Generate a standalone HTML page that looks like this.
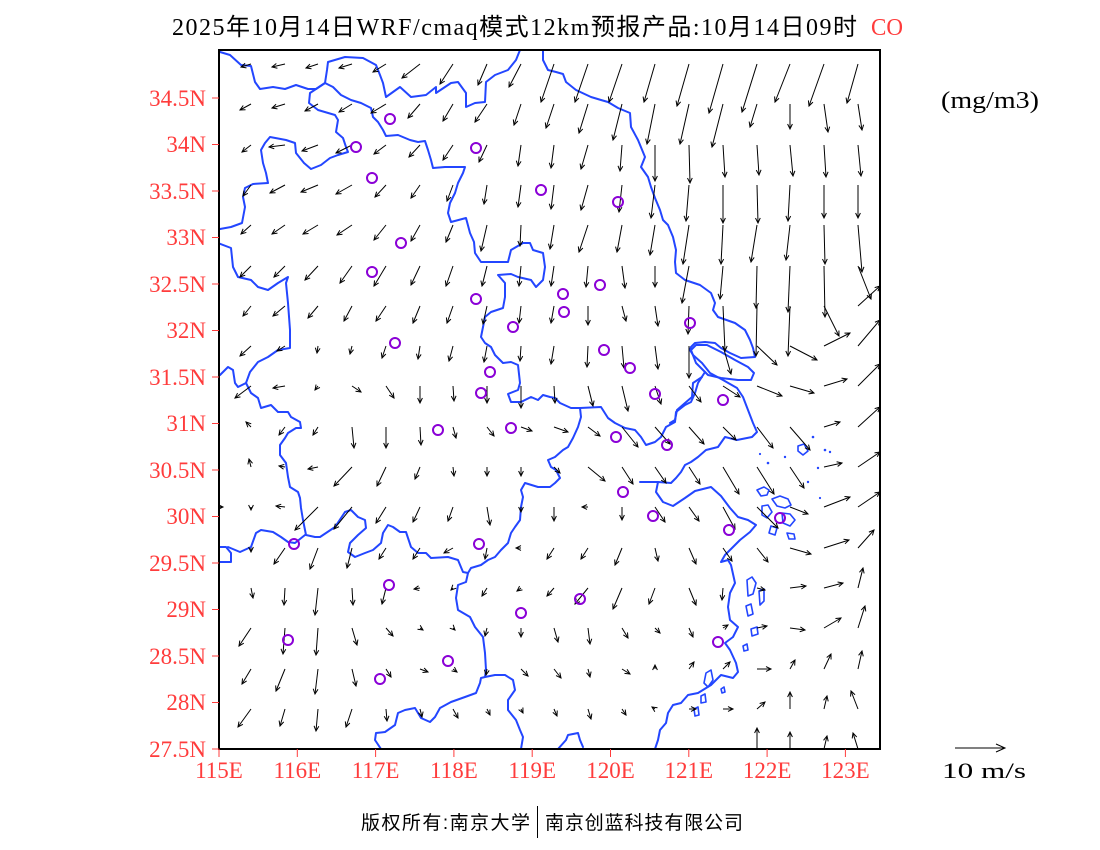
<!DOCTYPE html>
<html><head><meta charset="utf-8"><style>
html,body{margin:0;padding:0;background:#fff;}
svg{display:block;}
.lab{font-family:"Liberation Serif","Noto Sans CJK SC",serif;font-size:23px;fill:#ff3c3c;}
.bd{fill:none;stroke:#2346ff;stroke-width:2;stroke-linejoin:round;stroke-linecap:round;}
.isl path{fill:none;stroke:#2346ff;stroke-width:1.6;stroke-linejoin:round;}
.isl circle{fill:#2346ff;stroke:none;}
.ar path{fill:none;stroke:#000;stroke-width:1;}
.ci{fill:none;stroke:#8a00d6;stroke-width:2;}
</style></head><body>
<svg width="1100" height="850" viewBox="0 0 1100 850" xmlns="http://www.w3.org/2000/svg">
<defs>
<marker id="ah" markerUnits="userSpaceOnUse" markerWidth="12" markerHeight="12" viewBox="-6 -6 12 12" refX="0" refY="0" orient="auto"><path d="M-5,-2.4L0,0L-5,2.4" fill="none" stroke="#000" stroke-width="1"/></marker>
<clipPath id="pc"><rect x="219" y="50" width="661" height="699"/></clipPath>
</defs>
<rect x="0" y="0" width="1100" height="850" fill="#fff"/>

<!-- title -->
<text x="172" y="35" textLength="685" lengthAdjust="spacing" style="font-family:'Liberation Serif','Noto Sans CJK SC',serif;font-size:24px;fill:#000">2025年10月14日WRF/cmaq模式12km预报产品:10月14日09时</text>
<text x="871" y="35" textLength="32" lengthAdjust="spacingAndGlyphs" style="font-family:'Liberation Serif',serif;font-size:24px;fill:#ff3c3c">CO</text>

<g clip-path="url(#pc)">
<!-- borders -->
<polyline class="bd" points="220,52 230,55 241,65 251,66 255,82 260,89 273,87 285,89 296,85 308,89 316,89 325,83 327,70 328,62 345,57 363,58 376,65 380,75 383,83 386,97 393,92 400,87 411,97 426,95 436,87 436,93 451,83 458,82 466,93 466,107 475,103 485,102 486,82 495,75 508,70 516,60 520,50"/>
<polyline class="bd" points="325,83 310,93 309,103 318,110 335,115 338,120 336,132 343,138 346,147 348,152 338,155 330,158 321,165 311,169 304,163 296,153 295,143 286,140 270,137 265,143 261,150 263,163 266,173 268,183 253,184 245,188 243,197 245,207 242,223 231,227 220,229"/>
<polyline class="bd" points="325,83 333,87 341,95 351,100 361,103 371,108 373,117 378,122 383,130 386,136 398,135 410,140 418,142 425,141 428,150 431,160 433,168 445,167 465,167 463,173 458,183 455,193 450,203 448,213 451,222 466,218 470,233 474,242 475,253 481,262 495,262 508,262 511,250 523,243 530,243 533,250 543,253 545,267 543,280 536,287 531,280 518,277 511,274 498,275 505,283 505,297 503,308 491,312 485,317 481,337 485,343 491,347 495,355 503,363 511,362 518,365 520,383 518,390 508,394 511,402 521,402 531,397 538,400 543,395 550,397 555,398 560,403 571,408 580,408 601,407 608,418 615,423 625,428 635,430 641,437 646,445 655,442 661,437 666,427 675,422 676,412 685,405 691,402 695,393 698,383 705,372"/>
<polyline class="bd" points="543,50 543,60 548,70 556,72 563,74 566,82 576,90 591,97 601,100 608,102 618,108 630,113 631,127 638,140 645,157 641,167 648,177 651,187 655,198 660,210 663,220 668,225 673,237 676,250 675,262 676,273 685,280 700,285 711,293 715,303 713,310 718,317 735,323 745,330 750,340 753,348 755,357 741,358 730,353 721,348 715,343 705,342 695,343 691,347 690,350 693,355 702,363 710,373 723,380 737,388 743,397 748,410 753,423 757,432 752,437 737,440 725,437 718,447 706,450 698,457 691,462 685,465 681,472 676,478 671,483 658,482 648,482 640,482"/>
<polyline class="bd" points="691,350 696,363 708,375 721,378 738,380 751,380 754,373 748,367 735,360 721,352 707,345 696,345 691,350"/>
<polyline class="bd" points="702,377 693,383 692,397 685,403 677,410 675,420 670,423"/>
<polyline class="bd" points="658,482 656,492 663,502 673,506 685,498 695,491 711,487 721,496 730,508 738,517 748,520 756,525 750,532 740,540 732,548 725,555 721,562 728,560 731,565 735,583 730,593 728,607 730,620 738,627 733,637 725,643 730,650 736,663 738,672 733,678 721,675 711,685 698,693 688,695 681,703 673,705 668,713 666,723 660,730 658,740 655,749"/>
<polyline class="bd" points="218,243 231,248 233,267 238,277 251,280 258,287 268,290 278,283 288,277 286,283 288,303 290,330 290,348 278,350 268,357 258,362 250,372 246,383 238,387 235,383 233,370 228,367 220,375"/>
<polyline class="bd" points="246,383 251,393 258,398 261,408 271,405 278,412 288,412 291,417 300,422 301,428 296,428 288,433 285,438 280,445 280,455 286,463 288,477 290,487 298,492 300,498 301,508 303,520 306,535 315,537 320,537 335,527 345,512 351,510 358,517 365,520 366,528 358,535 350,543 348,552 355,557 365,553 373,550 381,543 383,533 388,525 393,527 400,532 406,532 411,547 418,553 426,553 431,558 448,557 458,560 463,572 468,573 466,582 458,585 456,598 458,610 470,617 475,627 483,637 485,653 486,670 485,677 481,678 480,683 476,693 465,697 451,702 440,708 435,717 430,722 421,718 415,708 405,710 398,713 395,725 385,732 376,733 375,740 381,749"/>
<polyline class="bd" points="228,547 240,552 251,547 256,533 261,530 273,532 281,537 288,542 295,543 305,535"/>
<polyline class="bd" points="219,547 226,547 231,553 231,562 219,562"/>
<polyline class="bd" points="468,573 471,568 481,565 488,560 495,557 501,550 508,543 511,533 515,527 520,520 521,507 523,497 521,490 525,483 538,487 550,487 555,483 560,478 556,470 551,467 548,460 555,457 563,450 568,447 573,438 578,427 581,417 580,408"/>
<polyline class="bd" points="485,677 495,675 505,675 513,680 515,690 508,700 508,710 516,720 520,730 523,737 521,749"/>
<polyline class="bd" points="558,749 566,740 568,735 578,733 580,740 583,747"/>
<!-- islands -->
<g class="isl">
<path d="M757,490L764,487L769,490L767,495L761,496Z"/>
<path d="M772,499L780,496L788,499L791,505L785,508L777,506Z"/>
<path d="M762,506L768,505L772,512L767,518L762,515Z"/>
<path d="M782,513L790,514L795,520L790,526L783,523Z"/>
<path d="M771,526L777,528L775,535L769,533Z"/>
<path d="M787,533L794,534L795,539L789,539Z"/>
<path d="M747,580L752,577L756,583L753,594L748,596Z"/>
<path d="M759,591L764,589L764,601L760,605Z"/>
<path d="M746,606L751,604L753,614L748,616Z"/>
<path d="M751,629L757,627L758,634L752,636Z"/>
<path d="M743,646L747,644L748,650L744,651Z"/>
<path d="M706,673L711,670L713,680L708,687L704,683Z"/>
<path d="M701,696L705,694L706,702L701,703Z"/>
<path d="M694,709L698,707L699,715L695,716Z"/>
<path d="M721,689L724,687L725,692L722,693Z"/>
<path d="M798,446L804,444L808,451L803,455L798,451Z"/>
<circle cx="813" cy="437" r="1.3"/><circle cx="825" cy="450" r="1.3"/><circle cx="768" cy="463" r="1.3"/>
<circle cx="785" cy="457" r="1.2"/><circle cx="830" cy="452" r="1.2"/><circle cx="818" cy="468" r="1.2"/>
<circle cx="808" cy="482" r="1.2"/><circle cx="760" cy="454" r="1.1"/><circle cx="820" cy="498" r="1.1"/>
</g>

<!-- wind arrows -->
<g class="ar" marker-end="url(#ah)">
<path d="M251 64l-10 3"/><path d="M285 64l-13 3"/><path d="M318 64l-12 4"/><path d="M352 64l-13 4"/><path d="M386 64l-13 8"/><path d="M420 64l-18 14"/><path d="M453 64l-13 20"/><path d="M487 64l-9 21"/><path d="M521 64l-12 23"/><path d="M554 64l-13 38"/><path d="M588 64l-13 38"/><path d="M622 64l-13 38"/><path d="M655 64l-11 38"/><path d="M689 64l-12 42"/><path d="M723 64l-14 49"/><path d="M757 64l-15 48"/><path d="M790 64l-15 38"/><path d="M824 64l-15 42"/><path d="M858 64l-11 39"/>
<path d="M251 104l-11 6"/><path d="M285 104l-13 4"/><path d="M318 104l-13 7"/><path d="M352 104l-13 8"/><path d="M386 104l-15 9"/><path d="M420 104l-12 14"/><path d="M453 104l-10 17"/><path d="M487 104l-12 18"/><path d="M521 104l-7 21"/><path d="M554 104l-8 24"/><path d="M588 104l-9 29"/><path d="M622 104l-9 36"/><path d="M655 104l-8 40"/><path d="M689 104l-9 40"/><path d="M723 104l-11 43"/><path d="M757 104l-7 23"/><path d="M790 104l0 25"/><path d="M824 104l4 28"/><path d="M858 104l4 26"/>
<path d="M251 145l-9 7"/><path d="M285 145l-16 2"/><path d="M318 145l-16 6"/><path d="M352 145l-16 8"/><path d="M386 145l-12 9"/><path d="M420 145l-11 12"/><path d="M453 145l-10 15"/><path d="M487 145l-8 17"/><path d="M521 145l-3 21"/><path d="M554 145l-3 23"/><path d="M588 145l-7 24"/><path d="M622 145l-2 26"/><path d="M655 145l0 36"/><path d="M689 145l1 38"/><path d="M723 145l2 32"/><path d="M757 145l2 30"/><path d="M790 145l3 31"/><path d="M824 145l2 32"/><path d="M858 145l3 31"/>
<path d="M251 185l-8 11"/><path d="M285 185l-15 8"/><path d="M318 185l-17 7"/><path d="M352 185l-16 9"/><path d="M386 185l-11 12"/><path d="M420 185l-9 13"/><path d="M453 185l-6 16"/><path d="M487 185l-3 19"/><path d="M521 185l-3 22"/><path d="M554 185l-3 24"/><path d="M588 185l-7 25"/><path d="M622 185l-3 27"/><path d="M655 185l-4 33"/><path d="M689 185l-3 36"/><path d="M723 185l0 38"/><path d="M757 185l1 38"/><path d="M790 185l-2 36"/><path d="M824 185l0 33"/><path d="M858 185l0 33"/>
<path d="M251 225l-10 9"/><path d="M285 225l-13 9"/><path d="M318 225l-15 9"/><path d="M352 225l-15 10"/><path d="M386 225l-12 15"/><path d="M420 225l-9 16"/><path d="M453 225l-7 17"/><path d="M487 225l-6 26"/><path d="M521 225l-1 21"/><path d="M554 225l-4 24"/><path d="M588 225l-9 27"/><path d="M622 225l-5 27"/><path d="M655 225l-5 30"/><path d="M689 225l-6 39"/><path d="M723 225l-2 39"/><path d="M757 225l-6 37"/><path d="M790 225l-4 35"/><path d="M824 225l1 39"/><path d="M858 225l4 47"/>
<path d="M251 266l-11 11"/><path d="M285 266l-11 11"/><path d="M318 266l-13 14"/><path d="M352 266l-12 17"/><path d="M386 266l-12 20"/><path d="M420 266l-9 19"/><path d="M453 266l-7 20"/><path d="M487 266l-5 20"/><path d="M521 266l-2 20"/><path d="M554 266l-3 20"/><path d="M588 266l-2 21"/><path d="M622 266l3 22"/><path d="M655 266l0 21"/><path d="M689 266l-7 37"/><path d="M723 266l-3 33"/><path d="M757 266l-1 42"/><path d="M790 266l-2 46"/><path d="M824 266l1 51"/><path d="M858 266l13 33"/>
<path d="M251 306l-8 10"/><path d="M285 306l-12 10"/><path d="M318 306l-10 12"/><path d="M352 306l-8 15"/><path d="M386 306l-10 15"/><path d="M420 306l-7 17"/><path d="M453 306l-6 17"/><path d="M487 306l-4 18"/><path d="M521 306l-2 17"/><path d="M554 306l-3 17"/><path d="M588 306l0 19"/><path d="M622 306l4 15"/><path d="M655 306l3 20"/><path d="M689 306l-1 28"/><path d="M723 306l2 45"/><path d="M757 306l-1 50"/><path d="M790 306l-2 50"/><path d="M824 306l15 30"/><path d="M858 306l22 -20"/>
<path d="M251 346l-11 10"/><path d="M285 346l-8 5"/><path d="M318 346l-1 7"/><path d="M352 346l-2 8"/><path d="M386 346l-4 12"/><path d="M420 346l-2 13"/><path d="M453 346l-4 15"/><path d="M487 346l-3 16"/><path d="M521 346l-1 15"/><path d="M554 346l-3 18"/><path d="M588 346l-1 21"/><path d="M622 346l2 22"/><path d="M655 346l3 23"/><path d="M689 346l0 32"/><path d="M723 346l8 28"/><path d="M757 346l20 19"/><path d="M790 346l27 14"/><path d="M824 346l26 -13"/><path d="M858 346l22 -26"/>
<path d="M251 386l-16 12"/><path d="M285 386l-12 2"/><path d="M318 386l-3 4"/><path d="M352 386l9 6"/><path d="M386 386l8 12"/><path d="M420 386l0 17"/><path d="M453 386l1 15"/><path d="M487 386l0 17"/><path d="M521 386l0 22"/><path d="M554 386l1 17"/><path d="M588 386l5 20"/><path d="M622 386l6 25"/><path d="M655 386l6 18"/><path d="M689 386l12 16"/><path d="M723 386l17 11"/><path d="M757 386l25 10"/><path d="M790 386l24 7"/><path d="M824 386l23 -7"/><path d="M858 386l22 -22"/>
<path d="M251 427l-5 -5"/><path d="M285 427l-6 8"/><path d="M318 427l-5 8"/><path d="M352 427l2 21"/><path d="M386 427l0 21"/><path d="M420 427l1 18"/><path d="M453 427l3 11"/><path d="M487 427l7 9"/><path d="M521 427l11 4"/><path d="M554 427l14 5"/><path d="M588 427l12 9"/><path d="M622 427l16 20"/><path d="M655 427l15 17"/><path d="M689 427l15 17"/><path d="M723 427l13 13"/><path d="M757 427l16 21"/><path d="M790 427l20 23"/><path d="M824 427l16 -5"/><path d="M858 427l22 -20"/>
<path d="M251 467l-2 -8"/><path d="M285 467l-6 -1"/><path d="M318 467l-10 2"/><path d="M352 467l-18 19"/><path d="M386 467l-9 19"/><path d="M420 467l-5 12"/><path d="M453 467l1 9"/><path d="M487 467l0 9"/><path d="M521 467l0 9"/><path d="M554 467l6 6"/><path d="M588 467l17 14"/><path d="M622 467l11 17"/><path d="M655 467l11 16"/><path d="M689 467l11 17"/><path d="M723 467l16 27"/><path d="M757 467l17 27"/><path d="M790 467l14 21"/><path d="M824 467l18 -4"/><path d="M858 467l22 -15"/>
<path d="M217 507l6 0"/><path d="M251 507l0 3"/><path d="M285 507l-9 -1"/><path d="M318 507l-23 23"/><path d="M352 507l-18 22"/><path d="M386 507l-10 16"/><path d="M420 507l-7 15"/><path d="M453 507l-5 14"/><path d="M487 507l3 18"/><path d="M521 507l0 5"/><path d="M554 507l0 14"/><path d="M588 507l-6 0"/><path d="M622 507l0 13"/><path d="M655 507l10 15"/><path d="M689 507l10 14"/><path d="M723 507l12 22"/><path d="M757 507l21 21"/><path d="M790 507l18 7"/><path d="M824 507l26 -10"/><path d="M858 507l22 -15"/>
<path d="M251 548l0 4"/><path d="M285 548l-11 16"/><path d="M318 548l-8 21"/><path d="M352 548l-5 20"/><path d="M386 548l-7 11"/><path d="M420 548l-7 11"/><path d="M453 548l-9 5"/><path d="M487 548l-2 11"/><path d="M521 548l-5 0"/><path d="M554 548l-7 11"/><path d="M588 548l-7 11"/><path d="M622 548l-7 17"/><path d="M655 548l3 13"/><path d="M689 548l7 16"/><path d="M723 548l9 13"/><path d="M757 548l11 14"/><path d="M790 548l21 6"/><path d="M824 548l25 -8"/><path d="M858 548l16 -18"/>
<path d="M251 588l2 10"/><path d="M285 588l-1 17"/><path d="M318 588l-3 27"/><path d="M352 588l1 17"/><path d="M386 588l-4 16"/><path d="M420 588l-6 1"/><path d="M453 588l-2 2"/><path d="M487 588l-5 8"/><path d="M521 588l-4 3"/><path d="M554 588l-7 8"/><path d="M588 588l-13 16"/><path d="M622 588l-9 21"/><path d="M655 588l-6 16"/><path d="M689 588l7 17"/><path d="M723 588l-1 12"/><path d="M757 588l8 2"/><path d="M790 588l16 -2"/><path d="M824 588l19 -5"/><path d="M858 588l5 -20"/>
<path d="M251 628l-12 18"/><path d="M285 628l-2 26"/><path d="M318 628l-2 27"/><path d="M352 628l5 17"/><path d="M386 628l7 8"/><path d="M420 628l3 2"/><path d="M453 628l2 2"/><path d="M487 628l-2 8"/><path d="M521 628l0 9"/><path d="M554 628l4 14"/><path d="M588 628l2 16"/><path d="M622 628l6 10"/><path d="M655 628l5 5"/><path d="M689 628l4 9"/><path d="M723 628l5 -3"/><path d="M757 628l10 -2"/><path d="M790 628l15 2"/><path d="M824 628l17 -10"/><path d="M858 628l7 -22"/>
<path d="M251 669l-9 15"/><path d="M285 669l-9 22"/><path d="M318 669l-3 25"/><path d="M352 669l4 17"/><path d="M386 669l5 8"/><path d="M420 669l8 3"/><path d="M453 669l4 3"/><path d="M487 669l-1 6"/><path d="M521 669l7 7"/><path d="M554 669l7 9"/><path d="M588 669l2 8"/><path d="M622 669l8 5"/><path d="M655 669l0 -4"/><path d="M689 669l5 -7"/><path d="M723 669l7 -7"/><path d="M757 669l14 0"/><path d="M790 669l5 -9"/><path d="M824 669l7 -15"/><path d="M858 669l4 -18"/>
<path d="M251 709l-13 18"/><path d="M285 709l-5 17"/><path d="M318 709l-2 22"/><path d="M352 709l-6 18"/><path d="M386 709l1 12"/><path d="M420 709l2 8"/><path d="M453 709l5 9"/><path d="M487 709l3 6"/><path d="M521 709l2 4"/><path d="M554 709l3 7"/><path d="M588 709l3 10"/><path d="M622 709l4 6"/><path d="M655 709l-3 -2"/><path d="M689 709l7 0"/><path d="M723 709l10 0"/><path d="M757 709l8 -7"/><path d="M790 709l0 -17"/><path d="M824 709l3 -13"/><path d="M858 709l-7 -18"/>
<path d="M757 749l0 -21"/><path d="M790 749l0 -17"/><path d="M824 749l3 -13"/><path d="M858 749l-5 -16"/>
</g>

<!-- stations -->
<g class="ci">
<circle cx="390" cy="119" r="5"/><circle cx="356" cy="147" r="5"/><circle cx="476" cy="148" r="5"/><circle cx="372" cy="178" r="5"/><circle cx="541" cy="190" r="5"/><circle cx="618" cy="202" r="5"/><circle cx="401" cy="243" r="5"/><circle cx="372" cy="272" r="5"/><circle cx="600" cy="285" r="5"/><circle cx="563" cy="294" r="5"/><circle cx="476" cy="299" r="5"/><circle cx="564" cy="312" r="5"/><circle cx="513" cy="327" r="5"/><circle cx="690" cy="323" r="5"/><circle cx="395" cy="343" r="5"/><circle cx="604" cy="350" r="5"/><circle cx="490" cy="372" r="5"/><circle cx="630" cy="368" r="5"/><circle cx="481" cy="393" r="5"/><circle cx="655" cy="394" r="5"/><circle cx="723" cy="400" r="5"/><circle cx="438" cy="430" r="5"/><circle cx="511" cy="428" r="5"/><circle cx="616" cy="437" r="5"/><circle cx="667" cy="445" r="5"/><circle cx="623" cy="492" r="5"/><circle cx="653" cy="516" r="5"/><circle cx="780" cy="518" r="5"/><circle cx="729" cy="530" r="5"/><circle cx="294" cy="544" r="5"/><circle cx="479" cy="544" r="5"/><circle cx="389" cy="585" r="5"/><circle cx="580" cy="599" r="5"/><circle cx="521" cy="613" r="5"/><circle cx="288" cy="640" r="5"/><circle cx="718" cy="642" r="5"/><circle cx="448" cy="661" r="5"/><circle cx="380" cy="679" r="5"/>
</g>
</g>

<!-- frame -->
<rect x="219" y="50" width="661" height="699" fill="none" stroke="#000" stroke-width="2"/>

<!-- ticks -->
<g stroke="#ff3c3c" stroke-width="1">
<line x1="212" y1="98" x2="219" y2="98"/><line x1="212" y1="144.5" x2="219" y2="144.5"/><line x1="212" y1="191" x2="219" y2="191"/><line x1="212" y1="237.5" x2="219" y2="237.5"/><line x1="212" y1="284" x2="219" y2="284"/><line x1="212" y1="330.5" x2="219" y2="330.5"/><line x1="212" y1="377" x2="219" y2="377"/><line x1="212" y1="423.5" x2="219" y2="423.5"/><line x1="212" y1="470" x2="219" y2="470"/><line x1="212" y1="516.5" x2="219" y2="516.5"/><line x1="212" y1="563" x2="219" y2="563"/><line x1="212" y1="609.5" x2="219" y2="609.5"/><line x1="212" y1="656" x2="219" y2="656"/><line x1="212" y1="702.5" x2="219" y2="702.5"/><line x1="212" y1="749" x2="219" y2="749"/>
<line x1="219" y1="749" x2="219" y2="757"/><line x1="297.3" y1="749" x2="297.3" y2="757"/><line x1="375.6" y1="749" x2="375.6" y2="757"/><line x1="453.9" y1="749" x2="453.9" y2="757"/><line x1="532.2" y1="749" x2="532.2" y2="757"/><line x1="610.5" y1="749" x2="610.5" y2="757"/><line x1="688.8" y1="749" x2="688.8" y2="757"/><line x1="767.1" y1="749" x2="767.1" y2="757"/><line x1="845.4" y1="749" x2="845.4" y2="757"/>
</g>

<!-- y labels -->
<g class="lab" text-anchor="end">
<text x="206" y="106">34.5N</text><text x="206" y="152">34N</text><text x="206" y="199">33.5N</text><text x="206" y="245">33N</text><text x="206" y="292">32.5N</text><text x="206" y="338">32N</text><text x="206" y="385">31.5N</text><text x="206" y="431">31N</text><text x="206" y="478">30.5N</text><text x="206" y="524">30N</text><text x="206" y="571">29.5N</text><text x="206" y="617">29N</text><text x="206" y="664">28.5N</text><text x="206" y="710">28N</text><text x="206" y="757">27.5N</text>
</g>
<!-- x labels -->
<g class="lab" text-anchor="middle">
<text x="219" y="778">115E</text><text x="297.3" y="778">116E</text><text x="375.6" y="778">117E</text><text x="453.9" y="778">118E</text><text x="532.2" y="778">119E</text><text x="610.5" y="778">120E</text><text x="688.8" y="778">121E</text><text x="767.1" y="778">122E</text><text x="845.4" y="778">123E</text>
</g>

<!-- units -->
<text x="941" y="108" textLength="98" lengthAdjust="spacingAndGlyphs" style="font-family:'Liberation Serif',serif;font-size:24px;fill:#000">(mg/m3)</text>

<!-- reference vector -->
<line x1="955" y1="748" x2="1005" y2="748" stroke="#000" stroke-width="1"/>
<path d="M996,744L1005,748L996,752" fill="none" stroke="#000" stroke-width="1"/>
<text x="942" y="778" textLength="84" lengthAdjust="spacingAndGlyphs" style="font-family:'Liberation Serif',serif;font-size:22px;fill:#000">10 m/s</text>

<!-- footer -->
<text x="361" y="829" textLength="169" lengthAdjust="spacing" style="font-family:'Liberation Sans','Noto Sans CJK SC',sans-serif;font-size:19px;fill:#000">版权所有:南京大学</text>
<line x1="537.5" y1="806" x2="537.5" y2="838" stroke="#000" stroke-width="1"/>
<text x="545" y="829" textLength="198" lengthAdjust="spacing" style="font-family:'Liberation Sans','Noto Sans CJK SC',sans-serif;font-size:19px;fill:#000">南京创蓝科技有限公司</text>
</svg>
</body></html>
